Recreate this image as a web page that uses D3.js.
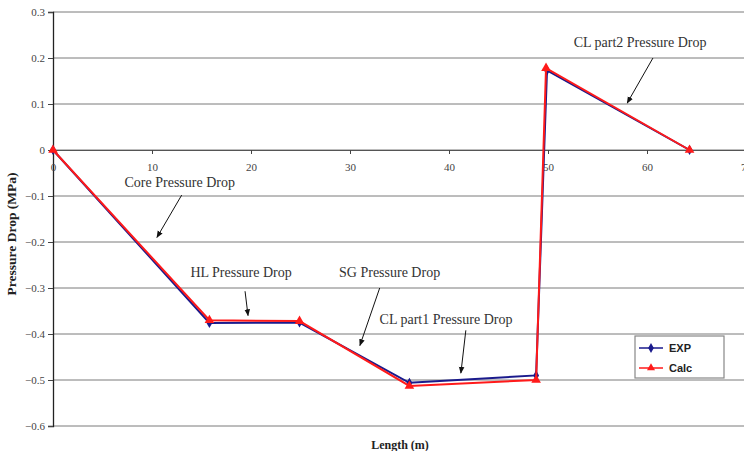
<!DOCTYPE html>
<html>
<head>
<meta charset="utf-8">
<script src="https://cdn.jsdelivr.net/npm/d3@7"></script>
<style>
  html, body { margin: 0; padding: 0; background: #fff; }
  svg { display: block; }
</style>
</head>
<body>
<svg id="chart" width="744" height="451"></svg>
<script>
// data
var lengthExp = [0, 15.8, 24.9, 36.0, 48.8, 49.9, 64.3];
var dropExp = [0, -0.376, -0.375, -0.506, -0.490, 0.173, 0.0];
var lengthCalc = [0, 15.8, 24.9, 36.0, 48.8, 49.8, 64.3];
var dropCalc = [0, -0.370, -0.372, -0.513, -0.500, 0.178, 0.0];
var xTicks = [0, 10, 20, 30, 40, 50, 60, 70];
var yTicks = [0.3, 0.2, 0.1, 0, -0.1, -0.2, -0.3, -0.4, -0.5, -0.6];
var seriesNames = ['EXP', 'Calc'];
// annotations: label, label centre (data units), arrow start and end (data units)
var notes = [
  {text: 'Core Pressure Drop', lx: 12.8, ly: -0.070, x1: 13.0, y1: -0.098, x2: 10.5, y2: -0.190},
  {text: 'HL Pressure Drop', lx: 19.0, ly: -0.265, x1: 19.4, y1: -0.307, x2: 19.7, y2: -0.360},
  {text: 'SG Pressure Drop', lx: 34.0, ly: -0.265, x1: 33.0, y1: -0.300, x2: 31.0, y2: -0.425},
  {text: 'CL part1 Pressure Drop', lx: 39.7, ly: -0.367, x1: 41.7, y1: -0.392, x2: 41.2, y2: -0.485},
  {text: 'CL part2 Pressure Drop', lx: 59.3, ly: 0.235, x1: 60.6, y1: 0.200, x2: 58.0, y2: 0.102}
];

var svg = d3.select('#chart');
var x = d3.scaleLinear().domain([0, 70]).range([53, 746]);
var y = d3.scaleLinear().domain([-0.6, 0.3]).range([426, 12]);

var defs = svg.append('defs');
defs.append('marker').attr('id', 'arrow')
  .attr('viewBox', '0 0 10 10').attr('refX', 9).attr('refY', 5)
  .attr('markerWidth', 7).attr('markerHeight', 7).attr('orient', 'auto')
  .append('path').attr('d', 'M0,1 L10,5 L0,9 z').attr('fill', '#111');

// gridlines
svg.append('g').selectAll('line').data(yTicks).join('line')
  .attr('x1', x(0)).attr('x2', 744)
  .attr('y1', function(d){ return y(d); }).attr('y2', function(d){ return y(d); })
  .attr('stroke', '#7a7a7a').attr('stroke-width', 1);

// y axis
var yAxis = svg.append('g').attr('transform', 'translate(' + x(0) + ',0)')
  .call(d3.axisLeft(y).tickValues(yTicks).tickSize(5).tickPadding(3)
    .tickFormat(function(d){ return d === 0 ? '0' : d3.format('.1f')(d); }));
yAxis.select('.domain').attr('stroke', '#222').attr('stroke-width', 1.3);
yAxis.selectAll('.tick line').attr('stroke', '#444');
yAxis.selectAll('text').attr('font-family', 'Liberation Serif').attr('font-size', 11).attr('fill', '#444');

// x axis at zero
var xAxis = svg.append('g').attr('transform', 'translate(0,' + y(0) + ')')
  .call(d3.axisBottom(x).tickValues(xTicks).tickSize(4).tickPadding(9));
xAxis.select('.domain').attr('stroke', '#555');
xAxis.selectAll('.tick line').attr('stroke', '#444');
xAxis.selectAll('text').attr('font-family', 'Liberation Serif').attr('font-size', 11).attr('fill', '#444');

// axis titles
svg.append('text').attr('transform', 'translate(16,234) rotate(-90)')
  .attr('text-anchor', 'middle').attr('font-family', 'Liberation Serif')
  .attr('font-weight', 'bold').attr('font-size', 13.5).attr('fill', '#222')
  .text('Pressure Drop (MPa)');
svg.append('text').attr('x', 400).attr('y', 449)
  .attr('text-anchor', 'middle').attr('font-family', 'Liberation Serif')
  .attr('font-weight', 'bold').attr('font-size', 12).attr('fill', '#222')
  .text('Length (m)');

// series
var line = d3.line().x(function(d){ return x(d[0]); }).y(function(d){ return y(d[1]); });
var expPts = d3.zip(lengthExp, dropExp);
var calcPts = d3.zip(lengthCalc, dropCalc);

svg.append('path').datum(expPts).attr('d', line)
  .attr('fill', 'none').attr('stroke', '#1a1a8c').attr('stroke-width', 2);
svg.append('g').selectAll('path').data(expPts).join('path')
  .attr('d', d3.symbol().type(d3.symbolDiamond).size(30))
  .attr('transform', function(d){ return 'translate(' + x(d[0]) + ',' + y(d[1]) + ')'; })
  .attr('fill', '#1a1a8c');

svg.append('path').datum(calcPts).attr('d', line)
  .attr('fill', 'none').attr('stroke', '#ff1a1a').attr('stroke-width', 2);
svg.append('g').selectAll('path').data(calcPts).join('path')
  .attr('d', d3.symbol().type(d3.symbolTriangle).size(40))
  .attr('transform', function(d){ return 'translate(' + x(d[0]) + ',' + y(d[1]) + ')'; })
  .attr('fill', '#ff1a1a');

// annotations
var ann = svg.append('g');
notes.forEach(function(n){
  ann.append('text').attr('x', x(n.lx)).attr('y', y(n.ly))
    .attr('text-anchor', 'middle').attr('dy', '0.35em')
    .attr('font-family', 'Liberation Serif').attr('font-size', 14).attr('fill', '#333')
    .text(n.text);
  ann.append('line')
    .attr('x1', x(n.x1)).attr('y1', y(n.y1)).attr('x2', x(n.x2)).attr('y2', y(n.y2))
    .attr('stroke', '#111').attr('stroke-width', 1).attr('marker-end', 'url(#arrow)');
});

// legend
var lg = svg.append('g').attr('transform', 'translate(635,336)');
lg.append('rect').attr('width', 89).attr('height', 42)
  .attr('fill', '#fff').attr('stroke', '#888').attr('stroke-width', 1.2);
var sym = [d3.symbolDiamond, d3.symbolTriangle];
var col = ['#1a1a8c', '#ff1a1a'];
seriesNames.forEach(function(name, i){
  var row = lg.append('g').attr('transform', 'translate(0,' + (12 + i * 20) + ')');
  row.append('line').attr('x1', 4).attr('x2', 28).attr('stroke', col[i]).attr('stroke-width', 1.5);
  row.append('path').attr('d', d3.symbol().type(sym[i]).size(28)).attr('transform', 'translate(16,0)').attr('fill', col[i]);
  row.append('text').attr('x', 34).attr('dy', '0.35em')
    .attr('font-family', 'Liberation Sans').attr('font-weight', 'bold').attr('font-size', 11).attr('fill', '#222')
    .text(name);
});
</script>
</body>
</html>
